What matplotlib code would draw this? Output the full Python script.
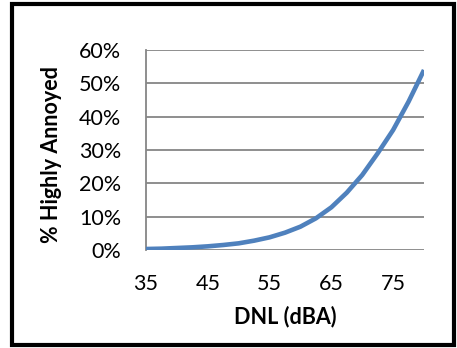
import matplotlib
matplotlib.use("Agg")
import matplotlib.pyplot as plt
from matplotlib.patches import Rectangle
from matplotlib.ticker import FuncFormatter

# values
dnl = [35, 37.5, 40, 42.5, 45, 47.5, 50, 52.5, 55, 57.5,
       60, 62.5, 65, 67.5, 70, 72.5, 75, 77.5, 80]
pct_annoyed = [0.3, 0.4, 0.6, 0.8, 1.1, 1.5, 2.0, 2.8, 3.8, 5.2,
               7.0, 9.5, 12.8, 17.2, 22.5, 29.0, 36.0, 44.5, 54.0]

x_ticks = [35, 45, 55, 65, 75]
y_ticks = [0, 10, 20, 30, 40, 50, 60]

plt.rcParams['font.family'] = ['Lato', 'DejaVu Sans']

fig = plt.figure(figsize=(4.57, 3.48), dpi=100)
W, H = 457, 348
ax = fig.add_axes([146 / W, 1 - 250 / H, (424 - 146) / W, 200 / H])

ax.plot(dnl, pct_annoyed, color="#4F81BD", lw=3.3, solid_capstyle="butt",
        solid_joinstyle="round", zorder=3)

ax.set_xlim(35, 80)
ax.set_ylim(0, 60)
ax.set_xticks(x_ticks)
ax.set_yticks(y_ticks)
ax.yaxis.set_major_formatter(FuncFormatter(lambda v, p: f"{v:.0f}%"))
ax.grid(axis="y", color="#868686", lw=1.3)
ax.set_axisbelow(True)
for s in ["top", "right", "bottom"]:
    ax.spines[s].set_visible(False)
ax.spines["left"].set_color("#868686")
ax.spines["left"].set_linewidth(1.3)
ax.tick_params(length=0, labelsize=15.5)
ax.tick_params(axis="y", pad=18)
ax.tick_params(axis="x", pad=17)

fig.text(285 / W, 1 - 317 / H, "DNL (dBA)", fontsize=15.5, fontweight="bold",
         ha="center", va="center")
fig.text(52 / W, 1 - 155 / H, "% Highly Annoyed", fontsize=15.5,
         fontweight="bold", rotation=90, ha="center", va="center")

fig.patches.append(Rectangle((12 / W, 3 / H), (W - 15) / W, (H - 7) / H,
                             transform=fig.transFigure, fill=False,
                             edgecolor="black", lw=3))

fig.savefig("out.png", dpi=100)
